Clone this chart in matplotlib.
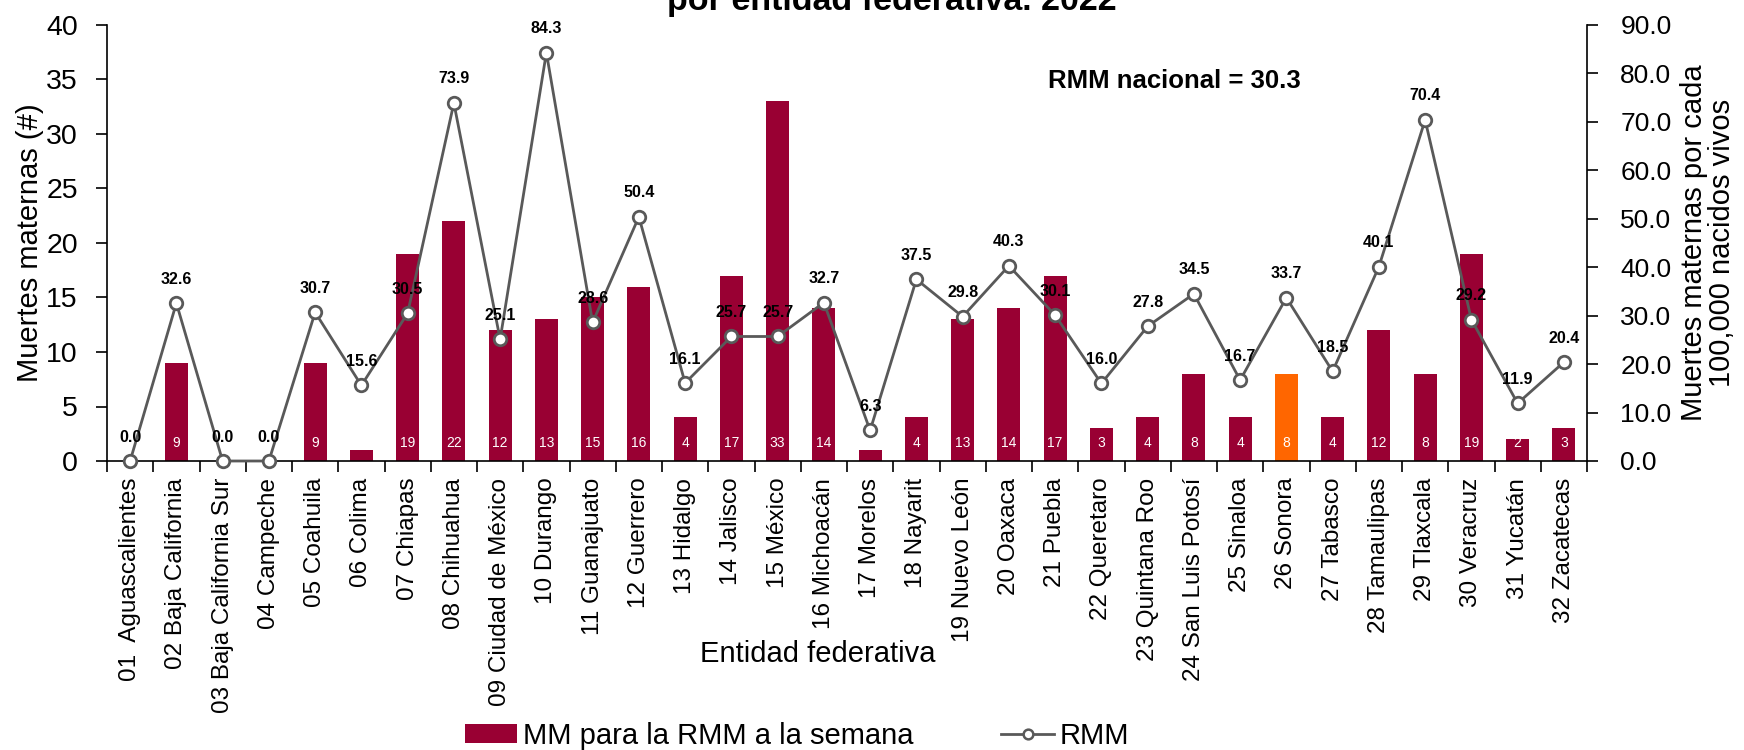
import matplotlib
matplotlib.use("Agg")
import matplotlib.pyplot as plt
from matplotlib.lines import Line2D
from matplotlib.patches import Patch
from matplotlib.ticker import FixedLocator, FormatStrFormatter

plt.rcParams['font.family'] = ['Liberation Sans', 'DejaVu Sans']

estados = ["01  Aguascalientes", "02 Baja California", "03 Baja California Sur", "04 Campeche",
           "05 Coahuila", "06 Colima", "07 Chiapas", "08 Chihuahua", "09 Ciudad de México",
           "10 Durango", "11 Guanajuato", "12 Guerrero", "13 Hidalgo", "14 Jalisco", "15 México",
           "16 Michoacán", "17 Morelos", "18 Nayarit", "19 Nuevo León", "20 Oaxaca", "21 Puebla",
           "22 Queretaro", "23 Quintana Roo", "24 San Luis Potosí", "25 Sinaloa", "26 Sonora",
           "27 Tabasco", "28 Tamaulipas", "29 Tlaxcala", "30 Veracruz", "31 Yucatán", "32 Zacatecas"]
mm = [0, 9, 0, 0, 9, 1, 19, 22, 12, 13, 15, 16, 4, 17, 33, 14, 1, 4, 13, 14, 17, 3, 4, 8, 4, 8,
      4, 12, 8, 19, 2, 3]
rmm = [0.0, 32.6, 0.0, 0.0, 30.7, 15.6, 30.5, 73.9, 25.1, 84.3, 28.6, 50.4, 16.1, 25.7, 25.7,
       32.7, 6.3, 37.5, 29.8, 40.3, 30.1, 16.0, 27.8, 34.5, 16.7, 33.7, 18.5, 40.1, 70.4, 29.2,
       11.9, 20.4]
destacado = "26 Sonora"

W, H = 1744, 750
fig = plt.figure(figsize=(W / 100, H / 100), dpi=100)
L, R, B, T = 107, 1587, 461, 25
ax = fig.add_axes([L / W, (H - B) / H, (R - L) / W, (B - T) / H])
ax2 = ax.twinx()

bar_col = '#990033'
colors = ['#FF6600' if e == destacado else bar_col for e in estados]
x = list(range(len(estados)))
ax.bar(x, mm, width=0.5, color=colors, zorder=2)
for i, v in enumerate(mm):
    if v >= 2:
        ax.annotate(str(v), (i, 0), xytext=(0, 18), textcoords='offset pixels',
                    ha='center', va='center', color='white', fontsize=10)

line_col = '#595959'
ax2.plot(x, rmm, color=line_col, lw=2.0, marker='o', ms=9, mfc='white', mec=line_col,
         mew=2.0, zorder=3, clip_on=False)
for i, v in enumerate(rmm):
    ax2.annotate(f"{v:.1f}", (i, v), xytext=(0, 24), textcoords='offset pixels',
                 ha='center', va='center', fontsize=11.5, fontweight='bold', color='black')

ax.set_xlim(-0.5, len(estados) - 0.5)
ax.set_ylim(0, 40)
ax2.set_ylim(0, 90)
ax.set_yticks(range(0, 41, 5))
ax2.set_yticks(range(0, 91, 10))
ax2.yaxis.set_major_formatter(FormatStrFormatter('%.1f'))

ax.set_xticks(x)
ax.set_xticklabels(estados, rotation=90, fontsize=17.5)
ax.xaxis.set_minor_locator(FixedLocator([i - 0.5 for i in range(len(estados) + 1)]))
ax.tick_params(axis='x', which='major', length=0, pad=12)
ax.tick_params(axis='x', which='minor', length=8, width=1.2, direction='out')
ax.tick_params(axis='y', length=8, width=1.2, direction='out', labelsize=20.5, pad=13)
ax2.tick_params(axis='y', length=8, width=1.2, direction='out', labelsize=19, pad=16)

for a in (ax, ax2):
    a.spines['top'].set_visible(False)
    for s in ('left', 'right', 'bottom'):
        a.spines[s].set_linewidth(1.2)
ax.spines['right'].set_visible(False)
ax2.spines['left'].set_visible(False)
ax2.spines['bottom'].set_visible(False)

ax.set_ylabel("Muertes maternas (#)", fontsize=21)
ax.yaxis.set_label_coords((44 - L) / (R - L), 0.5)
ax2.set_ylabel("Muertes maternas por cada\n100,000 nacidos vivos", fontsize=21,
               rotation=90, linespacing=1.0)
ax2.yaxis.set_label_coords((1680 - L) / (R - L), 0.5)
ax.set_xlabel("Entidad federativa", fontsize=21)
ax.xaxis.set_label_coords((818 - L) / (R - L), (B - 640) / (B - T))

fig.text(892 / W, 1 - 10 / H, "por entidad federativa. 2022", ha='center', va='baseline',
         fontsize=24.5, fontweight='bold')
fig.text(1174 / W, 1 - 81 / H, "RMM nacional = 30.3", ha='center', va='center',
         fontsize=18.5, fontweight='bold')

handles = [Patch(facecolor=bar_col, edgecolor='none'),
           Line2D([], [], color=line_col, lw=2.0, marker='o', ms=7, mfc='white', mec=line_col,
                  mew=1.8)]
fig.legend(handles, ["MM para la RMM a la semana", "RMM"], loc='center',
           bbox_to_anchor=(797 / W, 1 - 736 / H), ncol=2, frameon=False, fontsize=21,
           handlelength=1.8, handleheight=0.6, handletextpad=0.2, columnspacing=3.0,
           borderpad=0, borderaxespad=0)

fig.savefig("out.png", dpi=100)
